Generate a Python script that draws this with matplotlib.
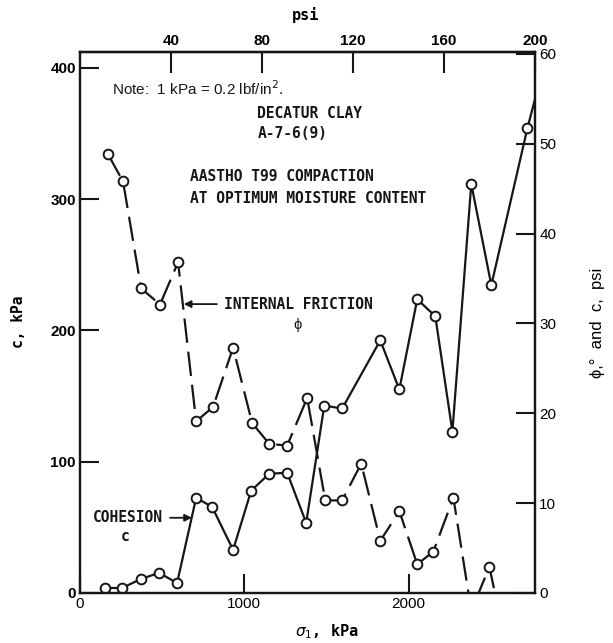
import matplotlib.pyplot as plt

# sigma_1 (kPa) and cohesion c (kPa), solid line
sigma_c = [152, 256, 372, 481, 591, 707, 804, 932, 1042, 1152, 1261, 1377,
           1487, 1596, 1828, 1944, 2053, 2163, 2267, 2382, 2504, 2724, 2830]
cohesion = [3.8, 3.8, 10.7, 15.3, 7.6, 72.5, 65.6, 32.8, 77.9, 90.8, 91.6, 53.4,
            142.7, 140.5, 192.4, 155.0, 223.7, 210.7, 122.9, 311.5, 234.4, 354.2, 405]

# sigma_1 (kPa) and internal friction phi (deg), dashed line
sigma_phi = [171, 262, 372, 487, 597, 707, 810, 932, 1048, 1152, 1261, 1383,
             1493, 1596, 1712, 1828, 1944, 2053, 2151, 2273, 2382, 2492, 2620]
phi = [48.8, 45.8, 33.9, 32.1, 36.8, 19.1, 20.7, 27.3, 18.9, 16.6, 16.4, 21.7,
       10.3, 10.3, 14.4, 5.8, 9.1, 3.2, 4.6, 10.6, -2.0, 2.9, -8.0]

x_ticks = [0, 1000, 2000]
c_ticks = [0, 100, 200, 300, 400]
right_ticks = [0, 10, 20, 30, 40, 50, 60]
psi_ticks = [40, 80, 120, 160, 200]

X_MAX = 2770
mono = 'DejaVu Sans Mono'
sans = 'Liberation Sans'
ink = '#161616'

fig = plt.figure(figsize=(6.13, 6.43), dpi=100)
ax = fig.add_axes([0.1305, 0.0778, 0.7423, 0.8413])
ax2 = ax.twinx()

mk = dict(marker='o', ms=7, mfc='white', mec=ink, mew=1.4)
ax.plot(sigma_c, cohesion, '-', color=ink, lw=1.6, **mk)
ax2.plot(sigma_phi, phi, color=ink, lw=1.6, linestyle=(0, (11, 4)), **mk)

ax.set_xlim(0, X_MAX)
ax.set_ylim(0, 412)
ax2.set_ylim(0, 60.2)

ax.set_xticks(x_ticks)
ax.set_yticks(c_ticks)
ax2.set_yticks(right_ticks)

for a in (ax, ax2):
    for s in a.spines.values():
        s.set_linewidth(1.6)
        s.set_color(ink)

ax.tick_params(direction='in', length=14, width=1.5, color=ink, labelsize=11, pad=3)
ax2.tick_params(direction='in', length=14, width=1.5, color=ink, labelsize=11, pad=3)
for lb in ax.get_xticklabels() + ax2.get_yticklabels():
    lb.set_family(sans)
for lb in ax.get_yticklabels():
    lb.set_family(sans)
    lb.set_fontweight('bold')

top = ax.secondary_xaxis('top', functions=(lambda k: k * 200 / X_MAX,
                                           lambda p: p * X_MAX / 200))
top.set_xticks(psi_ticks)
top.tick_params(direction='in', length=15, width=1.5, color=ink, labelsize=11, pad=3)
for lb in top.get_xticklabels():
    lb.set_family(sans)
    lb.set_fontweight('bold')
top.spines['top'].set_linewidth(1.6)

# axis titles
fig.text(0.498, 0.976, 'psi', family=mono, weight='bold', fontsize=11,
         ha='center', va='center')
fig.text(0.533, 0.017, r'$\sigma_1$, kPa', family=mono, weight='bold', fontsize=11,
         ha='center', va='center')
fig.text(0.030, 0.50, 'c, kPa', family=mono, weight='bold', fontsize=10.5,
         ha='center', va='center', rotation=90)
fig.text(0.974, 0.498, 'ϕ,°  and  c,  psi', family=sans, fontsize=12,
         ha='center', va='center', rotation=90)

# annotations inside plot
tk = dict(transform=ax.transAxes, family=mono, weight='bold', fontsize=10.5, color=ink)
ax.text(0.07, 0.933, 'Note:  1 kPa = 0.2 lbf/in$^2$.', transform=ax.transAxes,
        family=sans, fontsize=11, va='center', color=ink)
ax.text(0.39, 0.887, 'DECATUR CLAY', va='center', **tk)
ax.text(0.39, 0.850, 'A-7-6(9)', va='center', **tk)
ax.text(0.242, 0.769, 'AASTHO T99 COMPACTION', va='center', **tk)
ax.text(0.242, 0.730, 'AT OPTIMUM MOISTURE CONTENT', va='center', **tk)

ax.annotate('INTERNAL FRICTION', xy=(0.228, 0.534), xytext=(0.316, 0.534),
            xycoords='axes fraction', textcoords='axes fraction', va='center',
            family=mono, weight='bold', fontsize=10.5, color=ink,
            arrowprops=dict(arrowstyle='-|>', color=ink, lw=1.3, shrinkA=3, shrinkB=0))
ax.text(0.479, 0.495, 'ϕ', transform=ax.transAxes, family=sans, fontsize=10.5,
        ha='center', va='center', color=ink)

ax.annotate('COHESION', xy=(0.246, 0.139), xytext=(0.029, 0.139),
            xycoords='axes fraction', textcoords='axes fraction', va='center',
            family=mono, weight='bold', fontsize=10.5, color=ink,
            arrowprops=dict(arrowstyle='-|>', color=ink, lw=1.3, shrinkA=3, shrinkB=0))
ax.text(0.099, 0.1035, 'c', ha='center', va='center', **tk)

fig.savefig('out.png', dpi=100)
